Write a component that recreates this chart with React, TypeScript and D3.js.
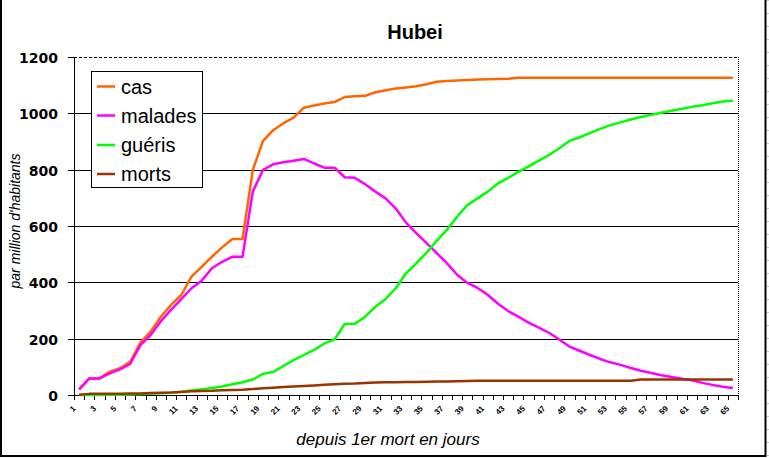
import React from 'react';
import * as d3 from 'd3';

const days = [1,2,3,4,5,6,7,8,9,10,11,12,13,14,15,16,17,18,19,20,21,22,23,24,25,26,27,28,29,30,31,32,33,34,35,36,37,38,39,40,41,42,43,44,45,46,47,48,49,50,51,52,53,54,55,56,57,58,59,60,61,62,63,64,65];
const tickLabels = [1,3,5,7,9,11,13,15,17,19,21,23,25,27,29,31,33,35,37,39,41,43,45,47,49,51,53,55,57,59,61,63,65];
const yTickValues = [0,200,400,600,800,1000,1200];

const cas = [20,59,59,83,95,118,186,225,278,320,355,420,455,491,524,554,554,799,902,940,965,985,1020,1028,1035,1040,1058,1061,1062,1075,1082,1088,1092,1096,1103,1112,1115,1117,1118,1120,1121,1122,1123,1126,1126,1126,1126,1126,1126,1126,1126,1126,1126,1126,1126,1126,1126,1126,1126,1126,1126,1126,1126,1126,1126];
const malades = [20,59,59,77,91,110,177,213,262,302,340,379,406,450,473,491,491,722,799,819,826,832,838,822,807,807,773,771,748,722,698,662,612,575,540,504,468,427,398,380,356,324,298,278,257,239,221,197,172,157,142,128,116,107,96,86,78,70,64,58,52,43,36,29,25];
const gueris = [0,0,0,1,1,2,3,4,6,8,12,16,20,25,30,38,45,55,75,82,103,124,142,160,183,197,252,253,278,313,341,379,432,467,505,547,586,633,674,698,722,751,771,792,812,832,852,876,902,915,930,945,958,968,978,987,995,1002,1009,1016,1023,1029,1036,1042,1045];
const morts = [1,4,4,4,4,5,5,7,8,9,11,13,14,15,17,18,19,21,24,26,28,30,32,34,36,38,40,41,43,44,45,45,46,46,47,48,48,49,50,51,51,51,51,51,51,51,51,51,51,51,51,51,51,51,51,55,55,55,55,55,55,55,55,55,55];

const seriesNames = ['cas', 'malades', 'guéris', 'morts'];
const seriesData = [cas, malades, gueris, morts];
const seriesColors = ['#FF6600', '#FF00FF', '#00FF00', '#993300'];

export default function App() {
  const W = 769, H = 458;
  const left = 74, right = 738, top = 57, bottom = 395;
  const x = d3.scaleLinear().domain([0.5, days.length + 0.5]).range([left, right]);
  const y = d3.scaleLinear().domain([0, 1200]).range([bottom, top]);
  const line = d3.line<number>().x((_, i) => x(days[i])).y(d => y(d));
  const boundaries = d3.range(0, days.length + 1).map(k => k + 0.5);
  const rowLines = d3.range(0, 36).map(k => 0.3 + 13 * k);
  const legendY = [86.5, 115.5, 145, 174];

  return (
    <svg width={W} height={H} style={{ position: 'absolute', left: 0, top: 0, background: '#fff' }}
      fontFamily="'Liberation Sans', Arial, sans-serif">
      <rect x={0} y={0} width={W} height={H} fill="#fff" />
      {/* outer frame */}
      <line x1={1} y1={0} x2={1} y2={457} stroke="#000" strokeWidth={2} />
      <line x1={0} y1={456} x2={766} y2={456} stroke="#000" strokeWidth={2} />
      <line x1={765.5} y1={0} x2={765.5} y2={457} stroke="#000" strokeWidth={2} />
      {rowLines.map((ry, i) => (
        <line key={i} x1={767} x2={769} y1={ry} y2={ry} stroke="#c8c8c8" strokeWidth={1} shapeRendering="crispEdges" />
      ))}
      {/* title */}
      <text x={415} y={39} textAnchor="middle" fontSize={20} fontWeight="bold">Hubei</text>
      {/* gridlines */}
      {yTickValues.filter(v => v > 0 && v < 1200).map(v => (
        <line key={v} x1={left} x2={right} y1={Math.round(y(v)) + 0.5} y2={Math.round(y(v)) + 0.5} stroke="#000" strokeWidth={1} shapeRendering="crispEdges" />
      ))}
      {/* plot border top & right */}
      <line x1={left} x2={right} y1={top + 0.5} y2={top + 0.5} stroke="#000" strokeWidth={1} strokeDasharray="3,2" shapeRendering="crispEdges" />
      <line x1={right + 0.5} x2={right + 0.5} y1={top} y2={bottom} stroke="#000" strokeWidth={1} strokeDasharray="1,1" shapeRendering="crispEdges" />
      {/* y axis */}
      <line x1={left + 0.5} x2={left + 0.5} y1={top} y2={bottom} stroke="#000" strokeWidth={1} shapeRendering="crispEdges" />
      {yTickValues.map(v => (
        <g key={v}>
          <line x1={left - 6} x2={left} y1={Math.round(y(v)) + 0.5} y2={Math.round(y(v)) + 0.5} stroke="#000" strokeWidth={1} shapeRendering="crispEdges" />
          <text x={58} y={y(v) + 6} textAnchor="end" fontSize={14} fontWeight="bold" fontFamily="'DejaVu Sans', sans-serif">{v}</text>
        </g>
      ))}
      <text transform={`translate(20,221) rotate(-90)`} textAnchor="middle" fontSize={14} fontStyle="italic">par million d'habitants</text>
      {/* x axis */}
      <line x1={left} x2={right} y1={bottom + 0.5} y2={bottom + 0.5} stroke="#000" strokeWidth={1} shapeRendering="crispEdges" />
      {boundaries.map(b => (
        <line key={b} x1={Math.round(x(b)) + 0.5} x2={Math.round(x(b)) + 0.5} y1={bottom} y2={bottom + 5} stroke="#000" strokeWidth={1} shapeRendering="crispEdges" />
      ))}
      {tickLabels.map(t => (
        <text key={t} transform={`translate(${x(t) - 3},${bottom + 14}) rotate(-45)`} textAnchor="end" fontSize={8} fontWeight="bold">{t}</text>
      ))}
      <text x={388} y={445} textAnchor="middle" fontSize={17} fontStyle="italic">depuis 1er mort en jours</text>
      {/* series */}
      {seriesData.map((s, i) => (
        <path key={i} d={line(s) || ''} fill="none" stroke={seriesColors[i]} strokeWidth={2.5} strokeLinejoin="round" />
      ))}
      {/* legend */}
      <rect x={91.5} y={71.5} width={111} height={116} fill="#fff" stroke="#000" strokeWidth={1} shapeRendering="crispEdges" />
      {seriesNames.map((n, i) => (
        <g key={n}>
          <line x1={97} x2={115} y1={legendY[i]} y2={legendY[i]} stroke={seriesColors[i]} strokeWidth={2.5} />
          <text x={121} y={legendY[i] + 7} fontSize={20}>{n}</text>
        </g>
      ))}
    </svg>
  );
}
